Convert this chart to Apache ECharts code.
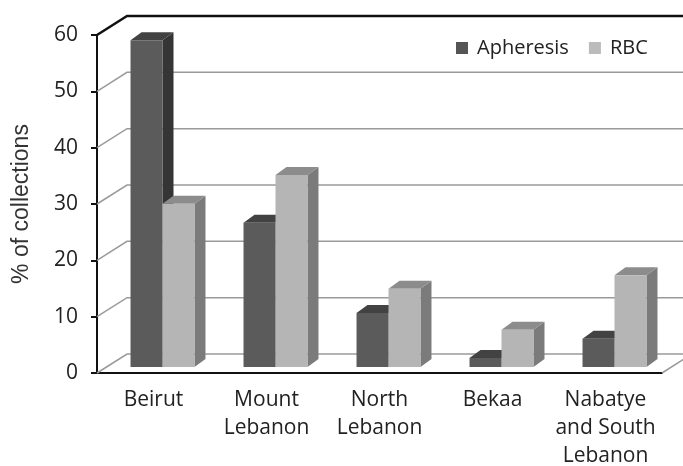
<!DOCTYPE html>
<html>
<head>
<meta charset="utf-8">
<script src="https://cdn.jsdelivr.net/npm/echarts@6/dist/echarts.min.js"></script>
<style>
  html, body { margin: 0; padding: 0; background: #fff; }
  #chart { width: 683px; height: 466px; }
</style>
</head>
<body>
<div id="chart"></div>
<script>
const categories = ['Beirut', 'Mount\nLebanon', 'North\nLebanon', 'Bekaa', 'Nabatye\nand South\nLebanon'];
const apheresis = [58, 25.6, 9.6, 1.6, 5.0];
const rbc = [29, 34.1, 13.9, 6.6, 16.3];
const yTicks = [0, 10, 20, 30, 40, 50, 60];

const chart = echarts.init(document.getElementById('chart'));

// 3D look: back wall offset and bar depth
const WALL_DX = 30, WALL_DY = -19;
const SHIFT_DX = 9, SHIFT_DY = -6;
const DEPTH_DX = 11, DEPTH_DY = -8;

const faces = {
  Apheresis: { front: '#5b5b5b', top: '#424242', side: '#353535' },
  RBC: { front: '#b5b5b5', top: '#8c8c8c', side: '#7b7b7b' }
};

function barRenderer(name, slot) {
  return function (params, api) {
    const idx = api.value(0);
    const base = api.coord([idx, 0]);
    const topPt = api.coord([idx, api.value(1)]);
    const band = api.size([1, 0])[0];
    const w = band * 0.283;
    const left = base[0] + SHIFT_DX - w + slot * w;
    const right = left + w;
    const bottom = base[1] + SHIFT_DY;
    const top = topPt[1] + SHIFT_DY;
    const c = faces[name];
    return {
      type: 'group',
      children: [
        { type: 'polygon', shape: { points: [[right, top], [right + DEPTH_DX, top + DEPTH_DY], [right + DEPTH_DX, bottom + DEPTH_DY], [right, bottom]] }, style: { fill: c.side } },
        { type: 'polygon', shape: { points: [[left, top], [left + DEPTH_DX, top + DEPTH_DY], [right + DEPTH_DX, top + DEPTH_DY], [right, top]] }, style: { fill: c.top } },
        { type: 'rect', shape: { x: left, y: top, width: w, height: bottom - top }, style: { fill: c.front } }
      ]
    };
  };
}

function wallRenderer(params, api) {
  const cs = params.coordSys;
  const v = api.value(1);
  const y = api.coord([0, v])[1];
  const x0 = cs.x;
  const x1 = cs.x + cs.width;
  const isTop = v === 60;
  const children = [{
    type: 'polyline',
    shape: { points: [[x0, y], [x0 + WALL_DX, y + WALL_DY], [x1 + WALL_DX, y + WALL_DY]] },
    style: { stroke: isTop ? '#111' : '#9a9a9a', lineWidth: isTop ? 2.5 : 1.5, fill: null }
  }];
  if (v === 0) {
    children.push({
      type: 'line',
      shape: { x1: x1, y1: y, x2: x1 + WALL_DX, y2: y + WALL_DY },
      style: { stroke: '#9a9a9a', lineWidth: 1.5 }
    });
  }
  return { type: 'group', children: children };
}

chart.setOption({
  animation: false,
  backgroundColor: '#fff',
  grid: { left: 97, right: 21, top: 35, bottom: 93, outerBoundsMode: 'none' },
  legend: {
    left: 451,
    top: 33,
    icon: 'rect',
    itemWidth: 12,
    itemHeight: 12,
    itemGap: 20,
    data: ['Apheresis', 'RBC'],
    textStyle: { fontFamily: 'Open Sans', fontSize: 20, color: '#222', padding: [0, 0, 0, 4] }
  },
  xAxis: {
    type: 'category',
    data: categories,
    axisLine: { lineStyle: { color: '#111', width: 2 } },
    axisTick: { length: 6, lineStyle: { color: '#111', width: 2 } },
    axisLabel: { fontFamily: 'Open Sans', fontSize: 21, color: '#222', lineHeight: 28, margin: 13, interval: 0 },
    splitLine: { show: false }
  },
  yAxis: {
    type: 'value',
    min: 0,
    max: 60,
    interval: 10,
    name: '% of collections',
    nameLocation: 'middle',
    nameGap: 64,
    nameTextStyle: { fontFamily: 'Liberation Sans', fontSize: 23, color: '#333' },
    axisLine: { show: true, lineStyle: { color: '#111', width: 2 } },
    axisTick: { show: true, length: 6, lineStyle: { color: '#111', width: 2 } },
    axisLabel: { fontFamily: 'Open Sans', fontSize: 21, color: '#222', margin: 19 },
    splitLine: { show: false }
  },
  series: [
    {
      type: 'custom',
      name: 'walls',
      renderItem: wallRenderer,
      data: yTicks.map(v => [0, v]),
      clip: false,
      silent: true,
      z: 1
    },
    {
      type: 'custom',
      name: 'Apheresis',
      renderItem: barRenderer('Apheresis', 0),
      itemStyle: { color: '#555' },
      data: apheresis.map((v, i) => [i, v]),
      z: 2
    },
    {
      type: 'custom',
      name: 'RBC',
      renderItem: barRenderer('RBC', 1),
      itemStyle: { color: '#bbb' },
      data: rbc.map((v, i) => [i, v]),
      z: 3
    }
  ]
});
</script>
</body>
</html>
